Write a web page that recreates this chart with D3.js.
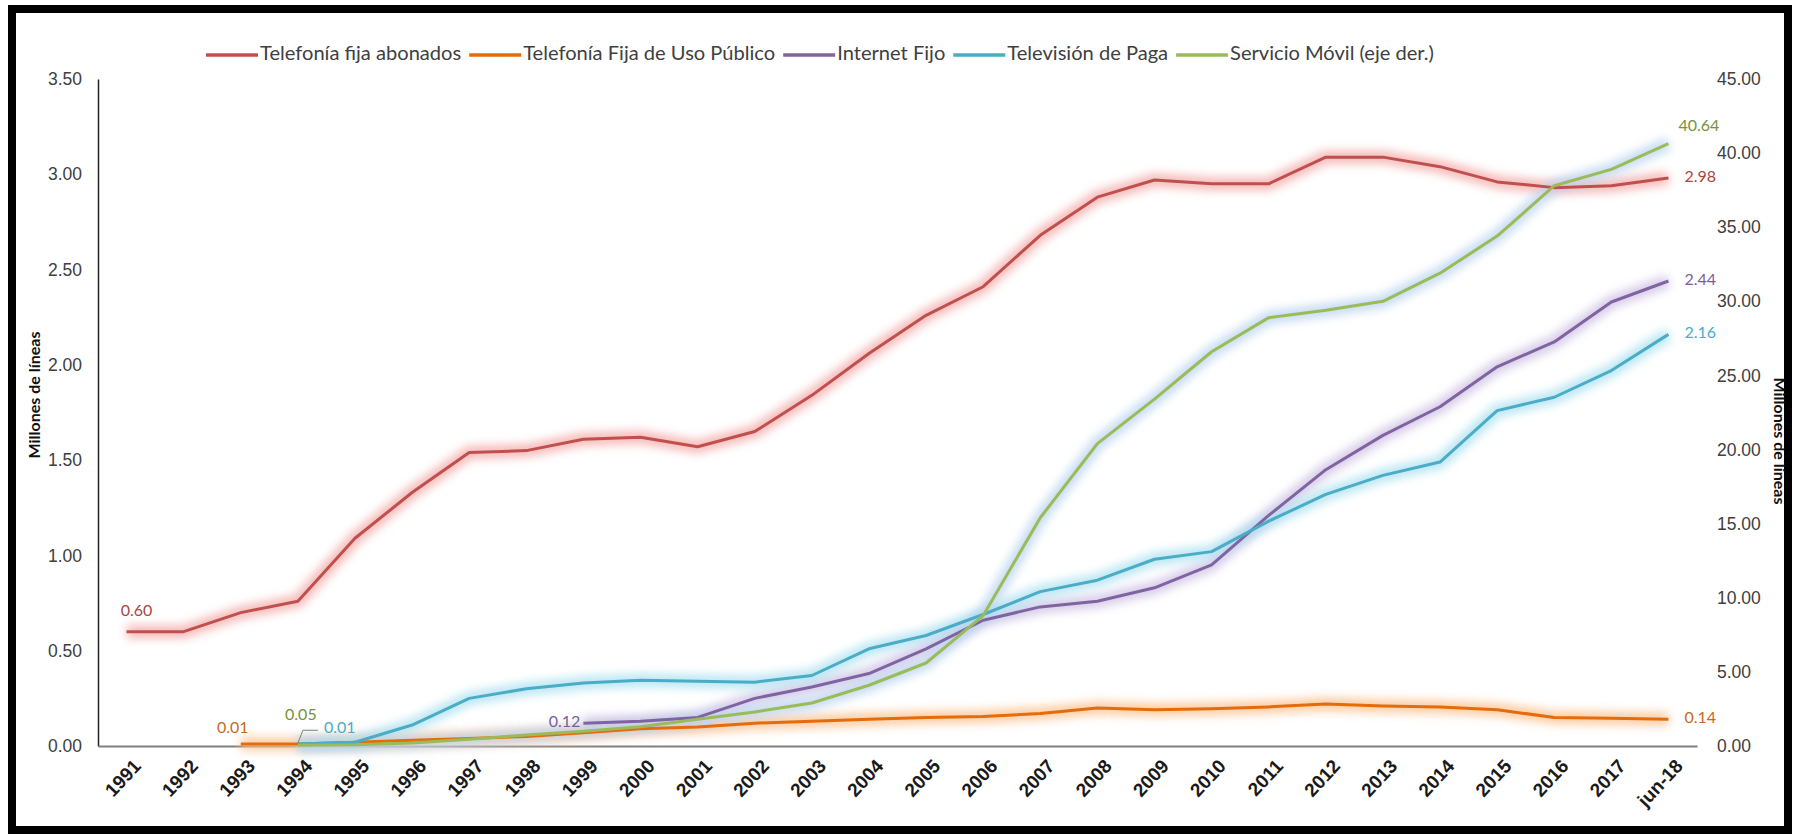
<!DOCTYPE html>
<html>
<head>
<meta charset="utf-8">
<script src="https://cdn.jsdelivr.net/npm/d3@7"></script>
<style>
  html, body { margin: 0; padding: 0; background: #fff; }
  svg { display: block; font-family: Lato, "Open Sans", sans-serif; }
</style>
</head>
<body>
<svg id="chart" width="1796" height="834"></svg>
<script>
// Periods on the horizontal axis
const categories = ["1991","1992","1993","1994","1995","1996","1997","1998","1999","2000",
  "2001","2002","2003","2004","2005","2006","2007","2008","2009","2010",
  "2011","2012","2013","2014","2015","2016","2017","jun-18"];

// Millones de líneas (eje izquierdo)
const fijaAbonados = [0.60,0.60,0.70,0.76,1.09,1.33,1.54,1.55,1.61,1.62,1.57,1.65,1.84,2.06,
  2.26,2.41,2.68,2.88,2.97,2.95,2.95,3.09,3.09,3.04,2.96,2.93,2.94,2.98];
const fijaUsoPublico = [null,null,0.01,0.01,0.02,0.03,0.04,0.05,0.07,0.09,0.10,0.12,0.13,0.14,
  0.15,0.155,0.17,0.20,0.19,0.195,0.205,0.22,0.21,0.205,0.19,0.15,0.145,0.14];
const internetFijo = [null,null,null,null,null,null,null,null,0.12,0.13,0.15,0.25,0.31,0.38,
  0.51,0.66,0.73,0.76,0.83,0.95,1.21,1.45,1.63,1.78,1.99,2.12,2.33,2.44];
const televisionPaga = [null,null,null,0.01,0.02,0.11,0.25,0.30,0.33,0.345,0.34,0.335,0.37,0.51,
  0.58,0.69,0.81,0.87,0.98,1.02,1.18,1.32,1.42,1.49,1.76,1.83,1.97,2.16];
// Millones de líneas (eje derecho)
const servicioMovil = [null,null,null,0.05,0.08,0.20,0.45,0.75,1.00,1.30,1.80,2.30,2.90,4.10,
  5.60,8.80,15.40,20.40,23.40,26.60,28.90,29.40,30.00,31.90,34.40,37.80,38.90,40.64];

const leftTicks = [0,0.5,1,1.5,2,2.5,3,3.5];
const rightTicks = [0,5,10,15,20,25,30,35,40,45];

const svg = d3.select("#chart");

// outer frame
svg.append("rect").attr("x", 12).attr("y", 9).attr("width", 1776).attr("height", 821)
  .attr("fill", "none").attr("stroke", "#000").attr("stroke-width", 8);

const plot = { left: 98, right: 1697, top: 79, bottom: 746 };

const x = d3.scalePoint().domain(categories).range([plot.left, plot.right]).padding(0.5);
const yL = d3.scaleLinear().domain([0, 3.5]).range([plot.bottom, plot.top]);
const yR = d3.scaleLinear().domain([0, 45]).range([plot.bottom, plot.top]);

// glow filter
const defs = svg.append("defs");
defs.append("filter").attr("id", "glow")
  .attr("x", "-10%").attr("y", "-50%").attr("width", "120%").attr("height", "200%")
  .append("feGaussianBlur").attr("stdDeviation", 5);

const series = [
  { name: "Telefonía fija abonados", values: fijaAbonados, y: yL, color: "#c0504d", glow: "#f3a9a7", label: "#a84643" },
  { name: "Telefonía Fija de Uso Público", values: fijaUsoPublico, y: yL, color: "#e46c0a", glow: "#fbc08c", label: "#c8691e" },
  { name: "Internet Fijo", values: internetFijo, y: yL, color: "#8064a2", glow: "#cdbfe3", label: "#7a5ea0" },
  { name: "Televisión de Paga", values: televisionPaga, y: yL, color: "#4bacc6", glow: "#a9e0f0", label: "#4bacc6" },
  { name: "Servicio Móvil (eje der.)", values: servicioMovil, y: yR, color: "#9bbb59", glow: "#b9d3f0", label: "#76923c" }
];

// axes
const axL = svg.append("g").attr("transform", `translate(${plot.left},0)`)
  .call(d3.axisLeft(yL).tickValues(leftTicks).tickSize(0).tickPadding(16).tickFormat(d3.format(".2f")));
axL.select(".domain").attr("stroke", "#222").attr("stroke-width", 1.5);
axL.selectAll("text").attr("font-size", 17.5).attr("fill", "#404040");

const axR = svg.append("g").attr("transform", `translate(${plot.right},0)`)
  .call(d3.axisRight(yR).tickValues(rightTicks).tickSize(0).tickPadding(20).tickFormat(d3.format(".2f")));
axR.select(".domain").remove();
axR.selectAll("text").attr("font-size", 17.5).attr("fill", "#404040");

const axX = svg.append("g").attr("transform", `translate(0,${plot.bottom})`)
  .call(d3.axisBottom(x).tickSize(0).tickPadding(0));
axX.select(".domain").attr("stroke", "#808080").attr("stroke-width", 2);
axX.selectAll("text")
  .attr("font-size", 19).attr("font-weight", "bold").attr("fill", "#1a1a1a")
  .attr("text-anchor", "end").attr("dy", 0).attr("y", 0)
  .attr("transform", "translate(15,21) rotate(-47)");

// axis titles
svg.append("text").attr("transform", "translate(40,395) rotate(-90)")
  .attr("text-anchor", "middle").attr("font-size", 16).attr("font-weight", "bold")
  .attr("fill", "#111").text("Millones de líneas");
svg.append("text").attr("transform", "translate(1774,441) rotate(90)")
  .attr("text-anchor", "middle").attr("font-size", 16).attr("font-weight", "bold")
  .attr("fill", "#111").text("Millones de líneas");

// lines with soft glow
const lines = svg.append("g");
series.forEach(s => {
  const gen = d3.line().defined(d => d != null)
    .x((d, i) => x(categories[i])).y(d => s.y(d));
  lines.append("path").attr("d", gen(s.values)).attr("fill", "none")
    .attr("stroke", s.glow).attr("stroke-width", 13).attr("stroke-linejoin", "round")
    .attr("opacity", 0.8).attr("filter", "url(#glow)");
});
series.forEach(s => {
  const gen = d3.line().defined(d => d != null)
    .x((d, i) => x(categories[i])).y(d => s.y(d));
  lines.append("path").attr("d", gen(s.values)).attr("fill", "none")
    .attr("stroke", s.color).attr("stroke-width", 3).attr("stroke-linejoin", "round");
});

// value labels
const labels = svg.append("g").attr("font-size", 16);
const fmt = d3.format(".2f");
function label(s, idx, dx, dy, anchor) {
  const v = s.values[idx];
  labels.append("text")
    .attr("x", x(categories[idx]) + dx).attr("y", s.y(v) + dy)
    .attr("text-anchor", anchor || "start").attr("dominant-baseline", "middle")
    .attr("fill", s.label).text(fmt(v));
}
const last = categories.length - 1;
label(series[0], 0, 10, -20, "middle");
label(series[0], last, 16, 0);
label(series[1], 2, -8, -15, "middle");
label(series[1], last, 16, 0);
label(series[2], 8, -3, 0, "end");
label(series[2], last, 16, 0);
label(series[3], 3, 26, -15);
label(series[3], last, 16, 0);
label(series[4], 3, 3, -29, "middle");
label(series[4], last, 10, -17);
// leader from the 0.05 label down to its point
{
  const px = x(categories[3]), py = yR(servicioMovil[3]);
  labels.append("path")
    .attr("d", `M${px},${py - 2} L${px + 5},${py - 15} L${px + 20},${py - 15}`)
    .attr("fill", "none").attr("stroke", "#7f7f7f").attr("stroke-width", 1);
}

// legend
const legend = svg.append("g").attr("transform", "translate(206,55)");
let lx = 0;
series.forEach(s => {
  legend.append("line").attr("x1", lx).attr("x2", lx + 52).attr("y1", 0).attr("y2", 0)
    .attr("stroke", s.color).attr("stroke-width", 3.5);
  const t = legend.append("text").attr("x", lx + 54).attr("y", 0)
    .attr("dominant-baseline", "middle").attr("font-size", 20.1).attr("fill", "#404040").text(s.name);
  lx += 54 + t.node().getComputedTextLength() + 8;
});
</script>
</body>
</html>
